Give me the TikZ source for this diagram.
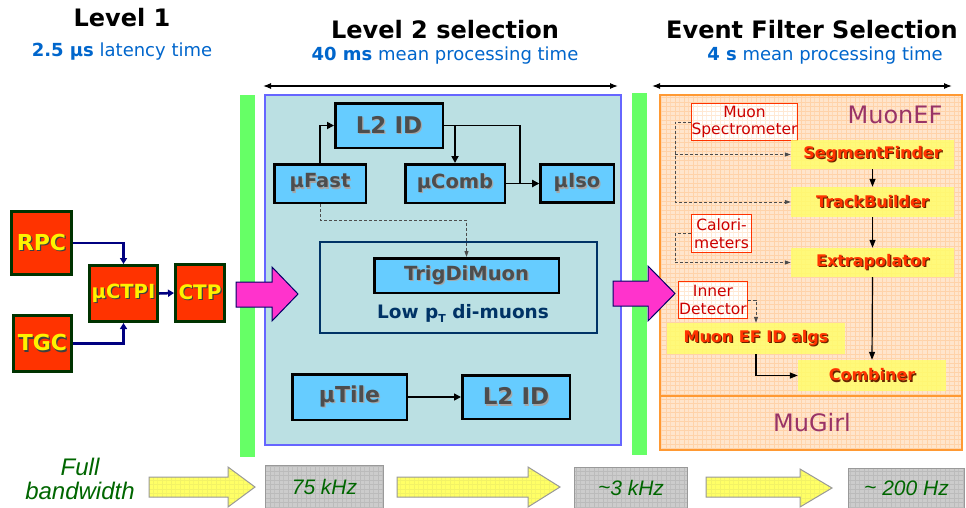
\documentclass[tikz,border=0pt]{standalone}
\usepackage{fontspec}
\setmainfont{DejaVu Sans}
\newfontfamily\ratefont{Liberation Sans}
\usetikzlibrary{arrows.meta,patterns.meta}
\definecolor{lonefill}{HTML}{FF3300}
\definecolor{loneborder}{HTML}{003300}
\definecolor{ltwofill}{HTML}{66CCFF}
\definecolor{ltwotext}{HTML}{4D4D4D}
\definecolor{tealbg}{HTML}{BBE0E3}
\definecolor{tealborder}{HTML}{6666FF}
\definecolor{barg}{HTML}{66FF66}
\definecolor{hblue}{HTML}{0066CC}
\definecolor{magen}{HTML}{FF33CC}
\definecolor{navyb}{HTML}{000066}
\definecolor{navyc}{HTML}{000080}
\definecolor{lowblue}{HTML}{003366}
\definecolor{effill}{HTML}{FFE5CC}
\definecolor{efgrid}{HTML}{FFD2A8}
\definecolor{efborder}{HTML}{FF9933}
\definecolor{efyellow}{HTML}{FFFF66}
\definecolor{efred}{HTML}{FF3300}
\definecolor{efshadow}{HTML}{662200}
\definecolor{srcred}{HTML}{CC0000}
\definecolor{purp}{HTML}{993366}
\definecolor{ratefill}{HTML}{CCCCCC}
\definecolor{rategrid}{HTML}{BBBBBB}
\definecolor{rateborder}{HTML}{999999}
\definecolor{rategreen}{HTML}{006600}
\definecolor{yelarrow}{HTML}{FFFF66}
\definecolor{yelgrid}{HTML}{F2F266}
\pgfdeclarepattern{
  name=fgrid,
  type=uncolored,
  bottom left={\pgfpoint{-.1pt}{-.1pt}},
  top right={\pgfpoint{4.6pt}{4.6pt}},
  tile size={\pgfpoint{4.5pt}{4.5pt}},
  code={
    \pgfsetlinewidth{0.35pt}
    \pgfpathmoveto{\pgfpoint{0pt}{0pt}}
    \pgfpathlineto{\pgfpoint{4.5pt}{0pt}}
    \pgfpathmoveto{\pgfpoint{0pt}{0pt}}
    \pgfpathlineto{\pgfpoint{0pt}{4.5pt}}
    \pgfusepath{stroke}
  }
}
\newcommand\shd[2]{\leavevmode\rlap{\kern1.2pt\raisebox{-1.2pt}{\textcolor{#1}{#2}}}#2}
\begin{document}
\begin{tikzpicture}[x=1pt,y=-1pt,
  lonebox/.style={draw=loneborder, line width=3pt, fill=lonefill, text=yellow,
    font=\bfseries\fontsize{22}{26}\selectfont, inner sep=0pt},
  ltwobox/.style={draw=black, line width=2.5pt, fill=ltwofill, text=ltwotext,
    font=\bfseries\fontsize{19.5}{23}\selectfont, inner sep=0pt},
  efalg/.style={fill=efyellow, fill opacity=0.8, text opacity=1, text=efred,
    font=\bfseries\fontsize{16}{19}\selectfont, inner sep=0pt},
  srcbox/.style={draw=efred, line width=1.2pt, preaction={fill=white}, pattern=fgrid,
    pattern color=efgrid!50, text=srcred, align=center, inner sep=0pt,
    font=\fontsize{15.5}{17.5}\selectfont},
  ratebox/.style={draw=rateborder, line width=1pt, preaction={fill=ratefill}, pattern=fgrid,
    pattern color=rategrid, text=rategreen, inner sep=0pt,
    font=\ratefont\itshape\fontsize{21}{24}\selectfont},
  title/.style={font=\bfseries\fontsize{24}{28}\selectfont, text=black},
  subtitle/.style={font=\fontsize{18}{22}\selectfont, text=hblue},
  lonearrow/.style={draw=navyc, line width=2.5pt, -{Triangle[length=6pt,width=7pt]}},
  conn/.style={draw=black, line width=1.8pt, -{Triangle[length=7pt,width=7pt]}},
  thinconn/.style={draw=black, line width=1.2pt, -{Triangle[length=8pt,width=6pt]}},
  dashconn/.style={draw=black!70, line width=1pt, dash pattern=on 3pt off 2pt, -{Triangle[length=6pt,width=4pt]}},
  span/.style={draw=black, line width=1.2pt, {Latex[length=8pt,width=6pt]}-{Latex[length=8pt,width=6pt]}},
  bigarrow/.style={fill=magen, draw=navyb, line width=1pt, line join=miter},
  yarrow/.style={preaction={fill=yelarrow}, pattern=fgrid, pattern color=yelgrid, draw=rateborder, line width=1pt},
  lbl/.style={inner sep=0pt}
]
\useasboundingbox (0,0) rectangle (966,507);
\fill[white] (0,0) rectangle (966,507);

% headers
\node[title] (h1) at (122,18) {Level 1};
\node[subtitle] (s1) at (122,52) {\textbf{2.5 μs} latency time};
\node[title] (h2) at (445,30) {Level 2 selection};
\node[subtitle] (s2) at (445,56) {\textbf{40 ms} mean processing time};
\node[title] (h3) at (812,30) {Event Filter Selection};
\node[subtitle] (s3) at (825,56) {\textbf{4 s} mean processing time};

% span arrows
\coordinate (sa1) at (263,86);
\coordinate (sa2) at (618,86);
\coordinate (sb1) at (652,86);
\coordinate (sb2) at (952,86);
\draw[span] (sa1) -- (sa2);
\draw[span] (sb1) -- (sb2);

% green bars
\fill[barg] (240,95) rectangle (255,457);
\fill[barg] (632,93) rectangle (647,455);

% Level 2 background
\draw[fill=tealbg, draw=tealborder, line width=1.2pt] (265,95) rectangle (621,445);

% EF background
\fill[effill] (660,95) rectangle (962,450);
\fill[pattern=fgrid, pattern color=efgrid] (660,95) rectangle (962,450);
\draw[efborder, line width=1.5pt] (660,95) rectangle (962,450);
\draw[efborder, line width=1.2pt] (660,396) -- (962,396);

% Level 1 boxes
\node[lonebox, minimum width=60pt, minimum height=63pt] (rpc) at (41.5,243) {\shd{black!75}{RPC}};
\node[lonebox, minimum width=58pt, minimum height=56pt] (tgc) at (42.5,343.5) {\shd{black!75}{TGC}};
\node[lonebox, minimum width=68pt, minimum height=56pt, font=\bfseries\fontsize{19.5}{22}\selectfont] (mctpi) at (123.5,293.5) {\shd{black!75}{μCTPI}};
\node[lonebox, minimum width=49pt, minimum height=57pt, font=\bfseries\fontsize{20}{24}\selectfont] (ctp) at (200,293) {\shd{black!75}{CTP}};
\draw[lonearrow] (rpc.east) -| (mctpi.north);
\draw[lonearrow] (tgc.east) -| (mctpi.south);
\draw[lonearrow] (mctpi.east) -- (ctp.west);

% magenta arrows
\draw[bigarrow] (236,282) -- (272,282) -- (272,267) -- (298,294) -- (272,321) -- (272,307) -- (236,307) -- cycle;
\draw[bigarrow] (613,281) -- (648,281) -- (648,266) -- (675,293.5) -- (648,321) -- (648,306) -- (613,306) -- cycle;

% Level 2 nodes
\node[ltwobox, minimum width=107.5pt, minimum height=44.5pt, font=\bfseries\fontsize{23}{26}\selectfont] (l2id) at (389,125.5) {\shd{black!35}{L2 ID}};
\node[ltwobox, minimum width=91.5pt, minimum height=38.5pt] (mufast) at (320,183.5) {\shd{black!35}{μFast}};
\node[ltwobox, minimum width=99.5pt, minimum height=38.5pt] (mucomb) at (455,183.5) {\shd{black!35}{μComb}};
\node[ltwobox, minimum width=73.5pt, minimum height=38pt] (muiso) at (577,183.5) {\shd{black!35}{μIso}};
\node[draw=lowblue, line width=2pt, minimum width=277pt, minimum height=91pt, inner sep=0pt] (lowframe) at (458.5,287.5) {};
\node[ltwobox, minimum width=184.5pt, minimum height=34.5pt] (trig) at (466.5,275.5) {\shd{black!35}{TrigDiMuon}};
\node[lbl, text=lowblue, font=\bfseries\fontsize{18.5}{21}\selectfont] (lowtxt) at (463,313) {Low p\raisebox{-4pt}{\fontsize{11}{11}\selectfont T} di-muons};
\node[ltwobox, minimum width=114.5pt, minimum height=45.5pt, font=\bfseries\fontsize{22}{26}\selectfont] (mutile) at (349.5,397) {\shd{black!35}{μTile}};
\node[ltwobox, minimum width=107.5pt, minimum height=43.5pt, font=\bfseries\fontsize{23}{26}\selectfont] (l2idb) at (516,397) {\shd{black!35}{L2 ID}};

\draw[conn] (mufast.north) |- (l2id.west);
\draw[conn] (l2id.east) -- ++(76,0) |- (muiso.west);
\draw[conn] (mucomb.north |- l2id.east) -- (mucomb.north);
\draw[conn] (mucomb.east) -- (muiso.west);
\draw[dashconn] (mufast.south) -- ++(0,16) -| (trig.north);
\draw[conn, line width=1.5pt] (mutile.east) -- (l2idb.west);

% EF nodes
\node[lbl, text=purp, font=\fontsize{24}{28}\selectfont] (muonef) at (895,115) {MuonEF};
\node[lbl, text=purp, font=\fontsize{24}{28}\selectfont] (mugirl) at (812,423) {MuGirl};
\node[srcbox, minimum width=106pt, minimum height=37pt] (muspec) at (744.5,122) {Muon\\Spectrometer};
\node[efalg, minimum width=163pt, minimum height=29pt] (segf) at (872.5,154.5) {\shd{efshadow}{SegmentFinder}};
\node[efalg, minimum width=163pt, minimum height=30pt] (trackb) at (872.5,202) {\shd{efshadow}{TrackBuilder}};
\node[efalg, minimum width=163pt, minimum height=29pt] (extrap) at (872.5,262.5) {\shd{efshadow}{Extrapolator}};
\node[srcbox, minimum width=60pt, minimum height=38pt] (calo) at (721.5,233.5) {Calori-\\meters};
\node[srcbox, minimum width=69pt, minimum height=37pt] (innerdet) at (713,300) {Inner\\Detector};
\node[efalg, minimum width=178pt, minimum height=31pt] (efid) at (756,338.5) {\shd{efshadow}{Muon EF ID algs}};
\node[efalg, minimum width=148pt, minimum height=31pt] (comb) at (872,375.5) {\shd{efshadow}{Combiner}};

\draw[thinconn] (segf.south) -- (trackb.north);
\draw[thinconn] (trackb.south) -- (extrap.north);
\draw[thinconn] (extrap.south) -- (comb.north);
\draw[thinconn] (efid.south) |- (comb.west);
\coordinate (dmx) at (675,122);
\draw[dashconn] (muspec.west) -- (dmx) |- (trackb.west);
\draw[dashconn] (dmx |- segf.west) -- (segf.west);
\draw[dashconn] (calo.west) -- (dmx |- calo.west) |- (extrap.west);
\draw[dashconn] (innerdet.east) -| (efid.north);

% bottom row
\node[lbl, text=rategreen, font=\ratefont\itshape\fontsize{24}{24}\selectfont, align=center] (fullbw) at (80,479) {Full\\bandwidth};
\draw[yarrow] (149,477) -- (228,477) -- (228,467) -- (255,487) -- (228,507) -- (228,497) -- (149,497) -- cycle;
\node[ratebox, minimum width=118pt, minimum height=44pt] (r1) at (324.5,487) {75 kHz};
\draw[yarrow] (397,477) -- (528,477) -- (528,467) -- (560,487) -- (528,507) -- (528,497) -- (397,497) -- cycle;
\node[ratebox, minimum width=113pt, minimum height=42pt] (r2) at (631,488) {\raisebox{1pt}{\textasciitilde}3 kHz};
\draw[yarrow] (706,477) -- (800,477) -- (800,469) -- (832,488) -- (800,507) -- (800,497) -- (706,497) -- cycle;
\node[ratebox, minimum width=116pt, minimum height=41pt] (r3) at (906.5,488.5) {\raisebox{1pt}{\textasciitilde} 200 Hz};
\end{tikzpicture}
\end{document}
